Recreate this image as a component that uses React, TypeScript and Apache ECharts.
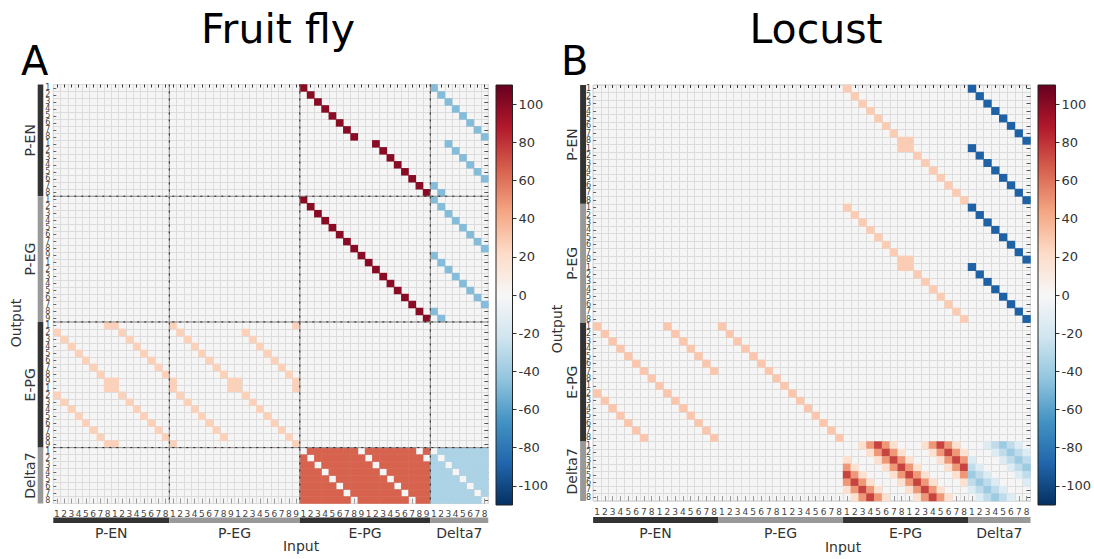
import React, { useEffect, useRef } from 'react';
import * as echarts from 'echarts';

const FONT = 'DejaVu Sans';
const RDBU = ['#053061', '#2166ac', '#4393c3', '#92c5de', '#d1e5f0', '#f7f7f7', '#fddbc7', '#f4a582', '#d6604d', '#b2182b', '#67001f'];
const colorbarRange = [-110, 110];
const colorbarTicks = [-100, -80, -60, -40, -20, 0, 20, 40, 60, 80, 100];

// ---------------- Fruit fly ----------------
const groupNames = ['P-EN', 'P-EG', 'E-PG', 'Delta7'];
const flyTicksPEN = '1 2 3 4 5 6 7 8 1 2 3 4 5 6 7 8'.split(' ');
const flyTicksPEG = '1 2 3 4 5 6 7 8 9 1 2 3 4 5 6 7 8 9'.split(' ');
const flyTicksEPG = '1 2 3 4 5 6 7 8 9 1 2 3 4 5 6 7 8 9'.split(' ');
const flyTicksD7 = '1 2 3 4 5 6 7 8'.split(' ');

const flyStrongExc = 100;
const flyInhFromD7 = -48;
const flyWeakExc = 26;

// per output row: input column(s) inside the source group
const flyPEN_fromEPG = [0, 1, 2, 3, 4, 5, 6, 7, 10, 11, 12, 13, 14, 15, 16, 17];
const flyPEN_fromD7 = [0, 1, 2, 3, 4, 5, 6, 7, 2, 3, 4, 5, 6, 7, 0, 1];
const flyPEG_fromEPG = [0, 1, 2, 3, 4, 5, 6, 7, 8, 9, 10, 11, 12, 13, 14, 15, 16, 17];
const flyPEG_fromD7 = [0, 1, 2, 3, 4, 5, 6, 7, 0, 1, 2, 3, 4, 5, 6, 7, 0, 1];
const flyEPG_fromPENPEG = [
  [7, 8, 16, 33], [0, 9, 17, 26], [1, 10, 18, 27], [2, 11, 19, 28], [3, 12, 20, 29],
  [4, 13, 21, 30], [5, 14, 22, 31], [6, 15, 23, 32], [7, 8, 16, 24, 25, 33],
  [7, 8, 16, 24, 25, 33], [0, 9, 17, 26], [1, 10, 18, 27], [2, 11, 19, 28],
  [3, 12, 20, 29], [4, 13, 21, 30], [5, 14, 22, 31], [6, 15, 23, 32], [7, 8, 16, 33],
];
const flyD7_fromEPG = [
  [0, 65, 65, 65, 65, 65, 65, 65, 0, 65, 65, 65, 65, 65, 65, 65, 0, 65],
  [65, 0, 65, 65, 65, 65, 65, 65, 65, 0, 65, 65, 65, 65, 65, 65, 65, 0],
  [65, 65, 0, 65, 65, 65, 65, 65, 65, 65, 0, 65, 65, 65, 65, 65, 65, 65],
  [65, 65, 65, 0, 65, 65, 65, 65, 65, 65, 65, 0, 65, 65, 65, 65, 65, 65],
  [65, 65, 65, 65, 0, 65, 65, 65, 65, 65, 65, 65, 0, 65, 65, 65, 65, 65],
  [65, 65, 65, 65, 65, 0, 65, 65, 65, 65, 65, 65, 65, 0, 65, 65, 65, 65],
  [65, 65, 65, 65, 65, 65, 0, 65, 65, 65, 65, 65, 65, 65, 0, 65, 65, 65],
  [65, 65, 65, 65, 65, 65, 65, 0, 65, 65, 65, 65, 65, 65, 65, 0, 65, 65],
];
const flyD7_fromD7 = [
  [0, -35, -35, -35, -35, -35, -35, -35],
  [-35, 0, -35, -35, -35, -35, -35, -35],
  [-35, -35, 0, -35, -35, -35, -35, -35],
  [-35, -35, -35, 0, -35, -35, -35, -35],
  [-35, -35, -35, -35, 0, -35, -35, -35],
  [-35, -35, -35, -35, -35, 0, -35, -35],
  [-35, -35, -35, -35, -35, -35, 0, -35],
  [-35, -35, -35, -35, -35, -35, -35, 0],
];

// ---------------- Locust ----------------
const locTicksPEN = '1 2 3 4 5 6 7 8 1 2 3 4 5 6 7 8'.split(' ');
const locTicksPEG = '1 2 3 4 5 6 7 8 1 2 3 4 5 6 7 8'.split(' ');
const locTicksEPG = '1 2 3 4 5 6 7 8 1 2 3 4 5 6 7 8'.split(' ');
const locTicksD7 = '1 2 3 4 5 6 7 8'.split(' ');

const locExcToEPG = 28;
const locInhFromD7 = -90;
const locEPGExc = 30;

const locPEN_fromEPG = [[0], [1], [2], [3], [4], [5], [6], [7, 8], [7, 8], [9], [10], [11], [12], [13], [14], [15]];
const locPEN_fromD7 = [0, 1, 2, 3, 4, 5, 6, 7, 0, 1, 2, 3, 4, 5, 6, 7];
const locPEG_fromEPG = [[0], [1], [2], [3], [4], [5], [6], [7, 8], [7, 8], [9], [10], [11], [12], [13], [14], [15]];
const locPEG_fromD7 = [0, 1, 2, 3, 4, 5, 6, 7, 0, 1, 2, 3, 4, 5, 6, 7];
const locEPG_fromPENPEG = [
  [0, 9, 16], [1, 10, 17], [2, 11, 18], [3, 12, 19], [4, 13, 20], [5, 14, 21], [6, 15, 22], [7, 23],
  [8, 24], [0, 9, 25], [1, 10, 26], [2, 11, 27], [3, 12, 28], [4, 13, 29], [5, 14, 30], [6, 15, 31],
];
const locD7_fromEPG = [
  [0, 0, 18, 48, 75, 48, 18, 0, 0, 0, 18, 48, 75, 48, 18, 0],
  [0, 0, 0, 18, 48, 75, 48, 18, 0, 0, 0, 18, 48, 75, 48, 18],
  [18, 0, 0, 0, 18, 48, 75, 48, 18, 0, 0, 0, 18, 48, 75, 48],
  [48, 18, 0, 0, 0, 18, 48, 75, 48, 18, 0, 0, 0, 18, 48, 75],
  [75, 48, 18, 0, 0, 0, 18, 48, 75, 48, 18, 0, 0, 0, 18, 48],
  [48, 75, 48, 18, 0, 0, 0, 18, 48, 75, 48, 18, 0, 0, 0, 18],
  [18, 48, 75, 48, 18, 0, 0, 0, 18, 48, 75, 48, 18, 0, 0, 0],
  [0, 18, 48, 75, 48, 18, 0, 0, 0, 18, 48, 75, 48, 18, 0, 0],
];
const locD7_fromD7 = [
  [0, 0, -15, -28, -40, -28, -15, 0],
  [0, 0, 0, -15, -28, -40, -28, -15],
  [-15, 0, 0, 0, -15, -28, -40, -28],
  [-28, -15, 0, 0, 0, -15, -28, -40],
  [-40, -28, -15, 0, 0, 0, -15, -28],
  [-28, -40, -28, -15, 0, 0, 0, -15],
  [-15, -28, -40, -28, -15, 0, 0, 0],
  [0, -15, -28, -40, -28, -15, 0, 0],
];

// ---------------- helpers ----------------
function cumOffsets(groups: string[][]) {
  const out: number[] = [];
  let s = 0;
  groups.forEach((g) => { out.push(s); s += g.length; });
  return out;
}
function addSparse(out: number[][], rowOff: number, colOff: number, cols: (number | number[])[], val: number) {
  cols.forEach((cs, r) => {
    (Array.isArray(cs) ? cs : [cs]).forEach((c) => out.push([colOff + c, rowOff + r, val]));
  });
}
function addDense(out: number[][], rowOff: number, colOff: number, rows: number[][]) {
  rows.forEach((row, r) => row.forEach((v, c) => { if (v !== 0) out.push([colOff + c, rowOff + r, v]); }));
}

const flyGroups = [flyTicksPEN, flyTicksPEG, flyTicksEPG, flyTicksD7];
const flyOff = cumOffsets(flyGroups);
const flyLabels = ([] as string[]).concat(...flyGroups);
const flyData: number[][] = [];
addSparse(flyData, flyOff[0], flyOff[2], flyPEN_fromEPG, flyStrongExc);
addSparse(flyData, flyOff[0], flyOff[3], flyPEN_fromD7, flyInhFromD7);
addSparse(flyData, flyOff[1], flyOff[2], flyPEG_fromEPG, flyStrongExc);
addSparse(flyData, flyOff[1], flyOff[3], flyPEG_fromD7, flyInhFromD7);
addSparse(flyData, flyOff[2], 0, flyEPG_fromPENPEG, flyWeakExc);
addDense(flyData, flyOff[3], flyOff[2], flyD7_fromEPG);
addDense(flyData, flyOff[3], flyOff[3], flyD7_fromD7);

const locGroups = [locTicksPEN, locTicksPEG, locTicksEPG, locTicksD7];
const locOff = cumOffsets(locGroups);
const locLabels = ([] as string[]).concat(...locGroups);
const locData: number[][] = [];
addSparse(locData, locOff[0], locOff[2], locPEN_fromEPG, locExcToEPG);
addSparse(locData, locOff[0], locOff[3], locPEN_fromD7, locInhFromD7);
addSparse(locData, locOff[1], locOff[2], locPEG_fromEPG, locExcToEPG);
addSparse(locData, locOff[1], locOff[3], locPEG_fromD7, locInhFromD7);
addSparse(locData, locOff[2], 0, locEPG_fromPENPEG, locEPGExc);
addDense(locData, locOff[3], locOff[2], locD7_fromEPG);
addDense(locData, locOff[3], locOff[3], locD7_fromD7);

const groupItems = (groups: string[][], off: number[]) =>
  groups.map((g, i) => [off[i], off[i] + g.length - 1, i]);

function groupRenderer(lay: { barX: number; barW: number; labX: number; botBar: number; botH: number; botLab: number }) {
  return (params: any, api: any) => {
    const cs = params.coordSys;
    const s = api.value(0), e = api.value(1), gi = api.value(2);
    const sz = api.size([1, 1]);
    const x0 = api.coord([s, 0])[0] - sz[0] / 2;
    const x1 = api.coord([e, 0])[0] + sz[0] / 2;
    const y0 = api.coord([0, s])[1] - sz[1] / 2;
    const y1 = api.coord([0, e])[1] + sz[1] / 2;
    const fill = gi % 2 === 0 ? '#333333' : '#999999';
    const bottom = cs.y + cs.height;
    return {
      type: 'group',
      children: [
        { type: 'rect', shape: { x: cs.x - lay.barX, y: y0, width: lay.barW, height: y1 - y0 }, style: { fill } },
        { type: 'rect', shape: { x: x0, y: bottom + lay.botBar, width: x1 - x0, height: lay.botH }, style: { fill } },
        {
          type: 'text', x: cs.x - lay.labX, y: (y0 + y1) / 2, rotation: Math.PI / 2,
          style: { text: groupNames[gi], fill: '#333', font: `14px "${FONT}"`, textAlign: 'center', textVerticalAlign: 'middle' },
        },
        {
          type: 'text', x: (x0 + x1) / 2, y: bottom + lay.botLab,
          style: { text: groupNames[gi], fill: '#333', font: `14px "${FONT}"`, textAlign: 'center', textVerticalAlign: 'middle' },
        },
      ],
    };
  };
}

function boundaryRenderer(params: any, api: any) {
  const cs = params.coordSys;
  const b = api.value(0);
  const sz = api.size([1, 1]);
  const x = api.coord([b, 0])[0] - sz[0] / 2;
  const y = api.coord([0, b])[1] - sz[1] / 2;
  const solid = { stroke: '#8f8f8f', lineWidth: 1 };
  const dash = { stroke: '#222', lineWidth: 1, lineDash: [2, 5] };
  return {
    type: 'group',
    children: [
      { type: 'line', shape: { x1: x, y1: cs.y, x2: x, y2: cs.y + cs.height }, style: solid },
      { type: 'line', shape: { x1: x, y1: cs.y, x2: x, y2: cs.y + cs.height }, style: dash },
      { type: 'line', shape: { x1: cs.x, y1: y, x2: cs.x + cs.width, y2: y }, style: solid },
      { type: 'line', shape: { x1: cs.x, y1: y, x2: cs.x + cs.width, y2: y }, style: dash },
    ],
  };
}

function colorbarRenderer(params: any, api: any) {
  const top = api.coord([0, api.value(2)]);
  const bot = api.coord([0, api.value(1)]);
  const w = api.size([1, 0])[0];
  const stops = RDBU.slice().reverse().map((c, i) => ({ offset: i / (RDBU.length - 1), color: c }));
  return {
    type: 'rect',
    shape: { x: top[0] - w / 2, y: top[1], width: w, height: bot[1] - top[1] },
    style: { fill: new echarts.graphic.LinearGradient(0, 0, 0, 1, stops), stroke: '#222', lineWidth: 1 },
  };
}

function matrixAxes(gridIndex: number, labels: string[], labelMarginY: number, yFont: number) {
  const xBottom = {
    type: 'category', gridIndex, data: labels, position: 'bottom',
    axisLine: { show: false },
    axisTick: { show: true, inside: true, length: 5, alignWithLabel: true, interval: 0, lineStyle: { color: '#9a9a9a' } },
    axisLabel: { interval: 0, fontSize: 9, color: '#444', margin: 6, fontFamily: FONT },
    splitLine: { show: true, interval: 0, lineStyle: { color: '#dcdcdc', width: 1 } },
  };
  const xTop = {
    type: 'category', gridIndex, data: labels, position: 'top',
    axisLine: { show: false },
    axisTick: { show: true, inside: true, length: 3, alignWithLabel: true, interval: 0, lineStyle: { color: '#333' } },
    axisLabel: { show: false }, splitLine: { show: false },
  };
  const yLeft = {
    type: 'category', gridIndex, data: labels, inverse: true, position: 'left',
    axisLine: { show: false },
    axisTick: { show: true, inside: true, length: 3, alignWithLabel: true, interval: 0, lineStyle: { color: '#666' } },
    axisLabel: { interval: 0, fontSize: yFont, lineHeight: 6, color: '#444', margin: labelMarginY, fontFamily: FONT },
    splitLine: { show: true, interval: 0, lineStyle: { color: '#dcdcdc', width: 1 } },
  };
  const yRight = {
    type: 'category', gridIndex, data: labels, inverse: true, position: 'right',
    axisLine: { show: false },
    axisTick: { show: true, inside: true, length: 4, alignWithLabel: true, interval: 0, lineStyle: { color: '#555' } },
    axisLabel: { show: false }, splitLine: { show: false },
  };
  return { xBottom, xTop, yLeft, yRight };
}

function colorbarAxes(gridIndex: number) {
  return {
    x: { type: 'category', gridIndex, data: ['cb'], show: false },
    y: {
      type: 'value', gridIndex, position: 'right', min: colorbarRange[0], max: colorbarRange[1],
      axisLine: { show: false }, splitLine: { show: false },
      axisTick: { show: true, customValues: colorbarTicks, length: 4, lineStyle: { color: '#333' } },
      axisLabel: { customValues: colorbarTicks, fontSize: 13, color: '#333', margin: 6, fontFamily: FONT },
    },
  };
}

export default function App() {
  const ref = useRef<HTMLDivElement>(null);
  useEffect(() => {
    if (!ref.current) return;
    const chart = echarts.init(ref.current, undefined, { renderer: 'svg' });
    const fa = matrixAxes(0, flyLabels, 3, 8);
    const la = matrixAxes(1, locLabels, 2, 8);
    const fc = colorbarAxes(2);
    const lc = colorbarAxes(3);
    const option: any = {
      animation: false,
      backgroundColor: '#ffffff',
      textStyle: { fontFamily: FONT },
      grid: [
        { left: 53.3, top: 84.5, width: 435, height: 419, show: true, backgroundColor: '#f5f5f5', borderColor: '#c4c4c4', borderWidth: 1 },
        { left: 593.1, top: 85, width: 437.4, height: 416, show: true, backgroundColor: '#f5f5f5', borderColor: '#c4c4c4', borderWidth: 1 },
        { left: 496, top: 85, width: 16.5, height: 420 },
        { left: 1038, top: 85, width: 17.5, height: 420 },
      ],
      xAxis: [fa.xBottom, fa.xTop, la.xBottom, la.xTop, fc.x, lc.x],
      yAxis: [fa.yLeft, fa.yRight, la.yLeft, la.yRight, fc.y, lc.y],
      visualMap: [{
        show: false, type: 'continuous', seriesIndex: [0, 1], dimension: 2,
        min: colorbarRange[0], max: colorbarRange[1], inRange: { color: RDBU },
      }],
      series: [
        { type: 'heatmap', xAxisIndex: 0, yAxisIndex: 0, data: flyData, itemStyle: { borderWidth: 0 }, emphasis: { disabled: true } },
        { type: 'heatmap', xAxisIndex: 2, yAxisIndex: 2, data: locData, itemStyle: { borderWidth: 0 }, emphasis: { disabled: true } },
        {
          type: 'custom', xAxisIndex: 0, yAxisIndex: 0, clip: false, silent: true,
          data: groupItems(flyGroups, flyOff),
          renderItem: groupRenderer({ barX: 15.6, barW: 5.6, labX: 23.3, botBar: 14, botH: 5.5, botLab: 29.5 }),
        },
        {
          type: 'custom', xAxisIndex: 2, yAxisIndex: 2, clip: false, silent: true,
          data: groupItems(locGroups, locOff),
          renderItem: groupRenderer({ barX: 13, barW: 6, labX: 21, botBar: 16, botH: 6, botLab: 31.5 }),
        },
        {
          type: 'custom', xAxisIndex: 0, yAxisIndex: 0, clip: false, silent: true, z: 5,
          data: flyOff.slice(1).map((b) => [b, b]),
          renderItem: boundaryRenderer,
        },
        {
          type: 'custom', xAxisIndex: 4, yAxisIndex: 4, clip: false, silent: true,
          data: [[0, colorbarRange[0], colorbarRange[1]]],
          renderItem: colorbarRenderer,
        },
        {
          type: 'custom', xAxisIndex: 5, yAxisIndex: 5, clip: false, silent: true,
          data: [[0, colorbarRange[0], colorbarRange[1]]],
          renderItem: colorbarRenderer,
        },
      ],
      graphic: [
        { type: 'text', x: 278, y: 29, style: { text: 'Fruit fly', font: `41px "${FONT}"`, fill: '#000', textAlign: 'center', textVerticalAlign: 'middle' } },
        { type: 'text', x: 816, y: 29, style: { text: 'Locust', font: `41px "${FONT}"`, fill: '#000', textAlign: 'center', textVerticalAlign: 'middle' } },
        { type: 'text', x: 21, y: 61, style: { text: 'A', font: `40px "${FONT}"`, fill: '#000', textAlign: 'left', textVerticalAlign: 'middle' } },
        { type: 'text', x: 561, y: 61, style: { text: 'B', font: `40px "${FONT}"`, fill: '#000', textAlign: 'left', textVerticalAlign: 'middle' } },
        { type: 'text', x: 16, y: 323, rotation: Math.PI / 2, style: { text: 'Output', font: `14px "${FONT}"`, fill: '#333', textAlign: 'center', textVerticalAlign: 'middle' } },
        { type: 'text', x: 557, y: 329, rotation: Math.PI / 2, style: { text: 'Output', font: `14px "${FONT}"`, fill: '#333', textAlign: 'center', textVerticalAlign: 'middle' } },
        { type: 'text', x: 301, y: 546, style: { text: 'Input', font: `14px "${FONT}"`, fill: '#333', textAlign: 'center', textVerticalAlign: 'middle' } },
        { type: 'text', x: 843, y: 547, style: { text: 'Input', font: `14px "${FONT}"`, fill: '#333', textAlign: 'center', textVerticalAlign: 'middle' } },
      ],
    };
    chart.setOption(option);
    return () => chart.dispose();
  }, []);
  return <div ref={ref} style={{ position: 'fixed', left: 0, top: 0, width: 1094, height: 559 }} />;
}
